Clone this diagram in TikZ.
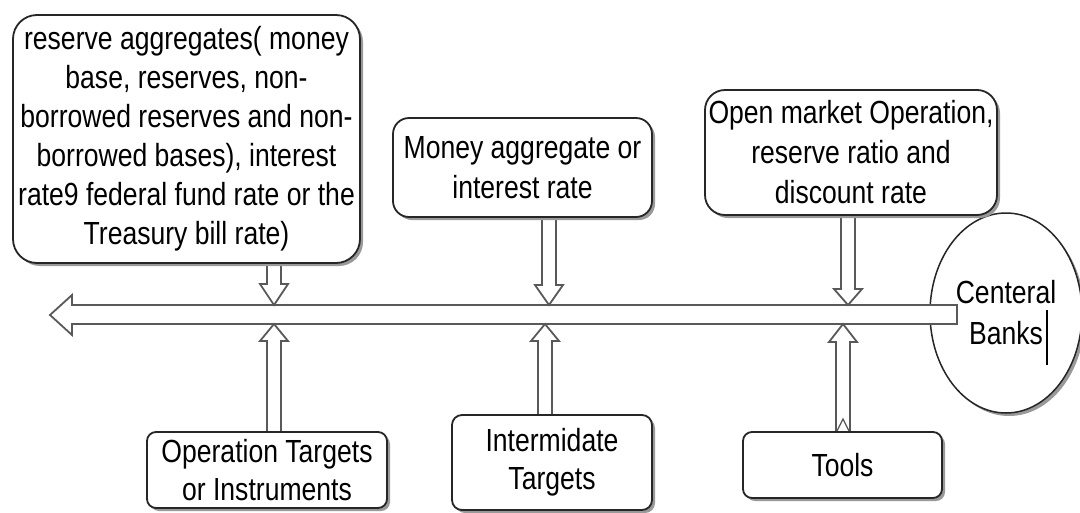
\documentclass[tikz,border=0pt]{standalone}
\usepackage{fontspec}
\newfontfamily\narrowsans[FakeStretch=0.83]{Liberation Sans}
\usetikzlibrary{shapes.geometric,shadows,calc}
\newcommand\varrow[5]{%
  \draw[hollow] let \p1=(#1),\p2=(#2) in
    (\x1-#3,\y1) -- (\x1-#3,\y2+#5) -- (\x1-#4,\y2+#5) -- (\x1,\y2)
    -- (\x1+#4,\y2+#5) -- (\x1+#3,\y2+#5) -- (\x1+#3,\y1);}
\begin{document}
\begin{tikzpicture}[x=1pt,y=-1pt,
  shade/.style={drop shadow={shadow xshift=3pt,shadow yshift=-3pt,fill=black!40,opacity=1}},
  box/.style={draw=black!85,line width=1.8pt,fill=white,rounded corners=#1,inner sep=0pt,
    align=center,shade},
  hollow/.style={draw=black!65,line width=1.8pt,fill=white,line join=miter},
  txt/.style={font=\narrowsans\fontsize{32}{#1}\selectfont}]
\useasboundingbox[fill=white] (0,0) rectangle (1080,512);

% central banks ellipse
\node[ellipse,draw=black!85,line width=1.5pt,fill=white,shade,minimum width=152pt,
  minimum height=200pt,inner sep=0pt,align=center,txt=41] (cb) at (1006,313)
  {Centeral\\Banks};
\draw[line width=1.5pt] (1047,310) -- (1047,365);

% main horizontal axis arrow
\coordinate (leftend) at (50,315);
\draw[hollow] (leftend) -- (72,295) -- (72,305) -- (957,305) -- (957,324)
  -- (72,324) -- (72,335) -- cycle;

% vertical hollow arrows
\coordinate (aS) at (274,263);  \coordinate (aT) at (274,305);
\coordinate (bS) at (274,432);  \coordinate (bT) at (274,324);
\coordinate (cS) at (549,217);  \coordinate (cT) at (549,305);
\coordinate (dS) at (545,415);  \coordinate (dT) at (545,324);
\coordinate (eS) at (848,215);  \coordinate (eT) at (848,305);
\coordinate (fS) at (843,432);  \coordinate (fT) at (843,324);
\varrow{aS}{aT}{7pt}{14pt}{21pt}
\varrow{bS}{bT}{7pt}{14pt}{-17pt}
\varrow{cS}{cT}{7pt}{14pt}{20pt}
\varrow{dS}{dT}{7pt}{14pt}{-17pt}
\varrow{eS}{eT}{7pt}{14pt}{16pt}
\varrow{fS}{fT}{7pt}{14pt}{-18pt}
\draw[black!65,line width=1.2pt] (837,431) -- (843,419) -- (849,431);

% boxes
\node[box=24pt,minimum width=347pt,minimum height=248pt,txt=39] (b1) at (186.5,139)
  {reserve aggregates( money\\base, reserves, non-\\borrowed reserves and non-\\borrowed bases), interest\\rate9 federal fund rate or the\\Treasury bill rate)};
\node[box=16pt,minimum width=259pt,minimum height=99pt,txt=40] (b2) at (522.5,167.5)
  {Money aggregate or\\interest rate};
\node[box=20pt,minimum width=292pt,minimum height=125pt,txt=40] (b3) at (851,152.5)
  {Open market Operation,\\reserve ratio and\\discount rate};
\node[box=9pt,minimum width=240pt,minimum height=76pt,txt=38] (o1) at (267,470)
  {Operation Targets\\or Instruments};
\node[box=10pt,minimum width=200pt,minimum height=95pt,txt=38] (o2) at (552,462.5)
  {Intermidate\\Targets};
\node[box=9pt,minimum width=199pt,minimum height=66pt,txt=38] (o3) at (842.5,465)
  {Tools};
\end{tikzpicture}
\end{document}
